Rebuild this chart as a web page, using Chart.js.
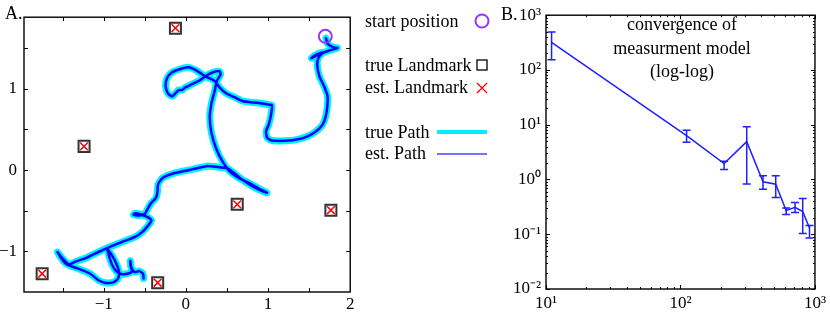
<!DOCTYPE html>
<html>
<head>
<meta charset="utf-8">
<script src="https://cdn.jsdelivr.net/npm/chart.js@4"></script>
<style>
  body { margin: 0; background: #fff; }
  #wrap { position: relative; width: 830px; height: 316px; font-family: "Liberation Serif", "Times New Roman", serif; color: #000; }
  canvas { position: absolute; top: 0; }
  .lbl { position: absolute; font-size: 18px; line-height: 1; white-space: nowrap; }
  .title { position: absolute; left: 582px; width: 200px; text-align: center; font-size: 18px; line-height: 23.5px; top: 13px; }
</style>
</head>
<body>
<div id="wrap">
  <canvas id="pathChart" width="360" height="316" style="left:0"></canvas>
  <canvas id="convChart" width="330" height="316" style="left:500px"></canvas>
  <div class="lbl" style="left:5px;top:4px">A.</div>
  <div class="lbl" style="left:501px;top:5px">B.</div>

  <div class="lbl" style="left:365px;top:12px">start position</div>
  <div class="lbl" style="left:365px;top:56px">true Landmark</div>
  <div class="lbl" style="left:365px;top:78px">est. Landmark</div>
  <div class="lbl" style="left:365px;top:123px">true Path</div>
  <div class="lbl" style="left:365px;top:144px">est. Path</div>
  <svg style="position:absolute;left:430px;top:0" width="70" height="170">
    <circle cx="52" cy="21" r="6.5" fill="none" stroke="#9933ff" stroke-width="2"/>
    <rect x="47" y="60" width="10" height="10" fill="#fff" stroke="#000" stroke-width="1.3"/>
    <path d="M47 83 L57 93 M57 83 L47 93" stroke="#ff0000" stroke-width="1.3"/>
    <line x1="7" y1="132" x2="57" y2="132" stroke="#00eeff" stroke-width="4"/>
    <line x1="7" y1="154" x2="57" y2="154" stroke="#4444ff" stroke-width="1.5"/>
  </svg>

  <div class="title">convergence of<br>measurment model<br>(log-log)</div>
</div>

<script>
// robot path (true and estimated overlap)
const pathX = [1.705,1.725,1.797,1.845,1.745,1.625,1.526,1.574,1.665,1.614,
  1.598,1.625,1.685,1.725,1.721,1.701,1.665,1.586,1.486,1.367,
  1.207,1.048,0.988,0.976,1.008,1.032,1.048,0.988,0.888,0.769,
  0.689,0.590,0.490,0.410,0.351,0.231,0.131,0.032,-0.068,-0.167,
  -0.227,-0.247,-0.219,-0.167,-0.116,-0.088,-0.048,-0.008,0.072,0.171,
  0.251,0.331,0.410,0.422,0.378,0.351,0.311,0.291,0.311,0.371,
  0.450,0.530,0.649,0.769,0.888,0.988,0.928,0.809,0.689,0.590,
  0.510,0.371,0.251,0.092,-0.147,-0.287,-0.339,-0.347,-0.367,-0.426,
  -0.466,-0.498,-0.566,-0.637,-0.618,-0.546,-0.466,-0.418,-0.446,-0.526,
  -0.625,-0.785,-0.924,-1.064,-1.203,-1.343,-1.422,-1.462,-1.510,-1.562,
  -1.522,-1.470,-1.414,-1.303,-1.163,-1.064,-0.984,-0.884,-0.825,-0.813,
  -0.845,-0.896,-0.956,-0.936,-0.896,-0.845,-0.785,-0.713,-0.657,-0.673,
  -0.677,-0.665,-0.625,-0.566,-0.522,-0.514];
const pathY = [1.622,1.554,1.510,1.502,1.470,1.426,1.375,1.414,1.446,1.382,
  1.295,1.155,1.024,0.904,0.777,0.657,0.558,0.478,0.418,0.378,
  0.359,0.363,0.398,0.478,0.558,0.657,0.797,0.809,0.825,0.837,
  0.849,0.896,0.944,1.016,1.096,1.155,1.223,1.263,1.243,1.203,
  1.135,1.036,0.944,0.908,0.956,0.984,0.984,1.016,1.056,1.104,
  1.163,1.203,1.215,1.175,1.096,0.976,0.817,0.657,0.458,0.259,
  0.100,-0.012,-0.100,-0.159,-0.227,-0.279,-0.259,-0.199,-0.120,-0.040,
  0.020,0.040,0.048,0.012,-0.040,-0.100,-0.179,-0.279,-0.347,-0.410,
  -0.478,-0.538,-0.558,-0.550,-0.530,-0.546,-0.578,-0.618,-0.665,-0.757,
  -0.825,-0.888,-0.944,-1.008,-1.076,-1.127,-1.163,-1.127,-1.076,-1.008,
  -1.076,-1.143,-1.175,-1.215,-1.275,-1.355,-1.386,-1.382,-1.335,-1.255,
  -1.155,-1.056,-0.968,-1.056,-1.167,-1.247,-1.279,-1.275,-1.247,-1.175,
  -1.116,-1.195,-1.255,-1.243,-1.275,-1.335];

const landmarkX = [-0.127, -1.239, 0.625, 1.765, -1.749, -0.343];
const landmarkY = [1.745, 0.291, -0.422, -0.494, -1.275, -1.386];
const startX = [1.697];
const startY = [1.645];

const pathXLabels = [-1, 0, 1, 2];
const pathYLabels = [-1, 0, 1];
const pathXMarks = [-1.5, -1, -0.5, 0, 0.5, 1, 1.5];
const pathYMarks = [-1, -0.5, 0, 0.5, 1, 1.5];

// convergence of measurement model
const nSamples = [11, 111, 211, 311, 411, 511, 611, 711, 811, 911];
const errMean  = [319, 6.3, 1.95, 4.9, 0.91, 0.82, 0.27, 0.31, 0.26, 0.13];
const errLow   = [154, 4.8, 1.52, 0.83, 0.66, 0.47, 0.23, 0.25, 0.103, 0.085];
const errHigh  = [495, 7.9, 2.15, 9.2, 1.17, 1.17, 0.30, 0.38, 0.45, 0.145];
const convXLabels = [10, 100, 1000];
const convYLabels = [0.01, 0.1, 1, 10, 100, 1000];

Chart.defaults.font.family = '"Liberation Serif", "Times New Roman", serif';
Chart.defaults.color = '#000';

const pts = (xs, ys) => xs.map((x, i) => ({ x: x, y: ys[i] }));
const minus = v => (v < 0 ? '\u2212' + Math.abs(v) : String(v));
const sup = { '-2': '\u207B\u00B2', '-1': '\u207B\u00B9', '0': '\u2070', '1': '\u00B9', '2': '\u00B2', '3': '\u00B3' };
const pow10 = v => '10' + sup[String(Math.round(Math.log10(v)))];

// box with inward tick marks (matlab style)
const frame = {
  id: 'frame',
  afterDraw(chart, args, o) {
    const { ctx, chartArea: a, scales: { x, y } } = chart;
    ctx.save();
    ctx.strokeStyle = '#000';
    ctx.lineWidth = 1;
    ctx.beginPath();
    const mark = (scale, list, len, horiz) => list.forEach(v => {
      const p = Math.round(scale.getPixelForValue(v)) + 0.5;
      if (horiz) {
        ctx.moveTo(p, a.bottom); ctx.lineTo(p, a.bottom - len);
        ctx.moveTo(p, a.top); ctx.lineTo(p, a.top + len);
      } else {
        ctx.moveTo(a.left, p); ctx.lineTo(a.left + len, p);
        ctx.moveTo(a.right, p); ctx.lineTo(a.right - len, p);
      }
    });
    mark(x, o.xMajor, 4, true);
    mark(y, o.yMajor, 4, false);
    if (o.xMinor) mark(x, o.xMinor, 2, true);
    if (o.yMinor) mark(y, o.yMinor, 2, false);
    ctx.stroke();
    ctx.lineWidth = 1.4;
    ctx.strokeRect(a.left, a.top, a.right - a.left, a.bottom - a.top);
    ctx.restore();
  }
};

const errorBars = {
  id: 'errorBars',
  afterDatasetsDraw(chart) {
    const { ctx, scales: { x, y } } = chart;
    ctx.save();
    ctx.strokeStyle = '#1f1fff';
    ctx.lineWidth = 1.5;
    ctx.beginPath();
    nSamples.forEach((n, i) => {
      const px = x.getPixelForValue(n);
      const top = y.getPixelForValue(errHigh[i]);
      const bot = y.getPixelForValue(errLow[i]);
      ctx.moveTo(px, top); ctx.lineTo(px, bot);
      ctx.moveTo(px - 4, top); ctx.lineTo(px + 4, top);
      ctx.moveTo(px - 4, bot); ctx.lineTo(px + 4, bot);
    });
    ctx.stroke();
    ctx.restore();
  }
};

const tickFont = { size: 17 };

new Chart(document.getElementById('pathChart'), {
  type: 'scatter',
  data: {
    datasets: [
      { label: 'start position', data: pts(startX, startY), pointStyle: 'circle', pointRadius: 6.5,
        borderColor: '#9933ff', borderWidth: 2, backgroundColor: 'rgba(0,0,0,0)', order: 0 },
      { label: 'est. Landmark', data: pts(landmarkX, landmarkY), pointStyle: 'crossRot', pointRadius: 5.5,
        borderColor: '#ff0000', borderWidth: 1.5, order: 1 },
      { label: 'true Landmark', data: pts(landmarkX, landmarkY), pointStyle: 'rect', pointRadius: 7.8,
        borderColor: '#333', backgroundColor: '#fff', borderWidth: 2, order: 2 },
      { label: 'est. Path', data: pts(pathX, pathY), showLine: true, pointRadius: 0, tension: 0.2,
        borderColor: '#0000ff', borderWidth: 2.5, borderJoinStyle: 'round', borderCapStyle: 'round', order: 3 },
      { label: 'true Path', data: pts(pathX, pathY), showLine: true, pointRadius: 0, tension: 0.2,
        borderColor: '#00f0ff', borderWidth: 7, borderJoinStyle: 'round', borderCapStyle: 'round', order: 4 }
    ]
  },
  options: {
    responsive: false,
    animation: false,
    devicePixelRatio: 1,
    layout: { padding: { left: 0, right: 4, top: 7, bottom: 0 } },
    plugins: {
      legend: { display: false },
      tooltip: { enabled: false },
      frame: { xMajor: pathXMarks, yMajor: pathYMarks }
    },
    scales: {
      x: {
        type: 'linear', min: -1.97, max: 2,
        grid: { display: false, drawTicks: false }, border: { display: false },
        ticks: { font: tickFont, padding: 2, autoSkip: false, maxRotation: 0, callback: v => minus(v) },
        afterBuildTicks: s => { s.ticks = pathXLabels.map(v => ({ value: v })); },
        afterFit: s => { s.height = 24; }
      },
      y: {
        type: 'linear', min: -1.5, max: 1.88,
        grid: { display: false, drawTicks: false }, border: { display: false },
        ticks: { font: tickFont, padding: 7, autoSkip: false, callback: v => minus(v) },
        afterBuildTicks: s => { s.ticks = pathYLabels.map(v => ({ value: v })); },
        afterFit: s => { s.width = 24; }
      }
    }
  },
  plugins: [frame]
});

// log minor tick positions
const minorX = [], minorY = [];
for (let d = 1; d < 3; d++) for (let m = 2; m < 10; m++) minorX.push(m * Math.pow(10, d));
for (let d = -2; d < 3; d++) for (let m = 2; m < 10; m++) minorY.push(m * Math.pow(10, d));

new Chart(document.getElementById('convChart'), {
  type: 'scatter',
  data: {
    datasets: [
      { label: 'error', data: pts(nSamples, errMean), showLine: true, pointRadius: 0,
        borderColor: '#1f1fff', borderWidth: 1.5 }
    ]
  },
  options: {
    responsive: false,
    animation: false,
    devicePixelRatio: 1,
    layout: { padding: { left: 0, right: 11, top: 11, bottom: 0 } },
    plugins: {
      legend: { display: false },
      tooltip: { enabled: false },
      frame: { xMajor: convXLabels, yMajor: convYLabels, xMinor: minorX, yMinor: minorY }
    },
    scales: {
      x: {
        type: 'logarithmic', min: 10, max: 1000,
        grid: { display: false, drawTicks: false }, border: { display: false },
        ticks: { font: tickFont, padding: 4, autoSkip: false, maxRotation: 0, callback: v => pow10(v) },
        afterBuildTicks: s => { s.ticks = convXLabels.map(v => ({ value: v })); },
        afterFit: s => { s.height = 27; }
      },
      y: {
        type: 'logarithmic', min: 0.01, max: 1000,
        grid: { display: false, drawTicks: false }, border: { display: false },
        ticks: { font: tickFont, padding: 5, autoSkip: false, callback: v => pow10(v) },
        afterBuildTicks: s => { s.ticks = convYLabels.map(v => ({ value: v })); },
        afterFit: s => { s.width = 46; }
      }
    }
  },
  plugins: [frame, errorBars]
});
</script>
</body>
</html>
